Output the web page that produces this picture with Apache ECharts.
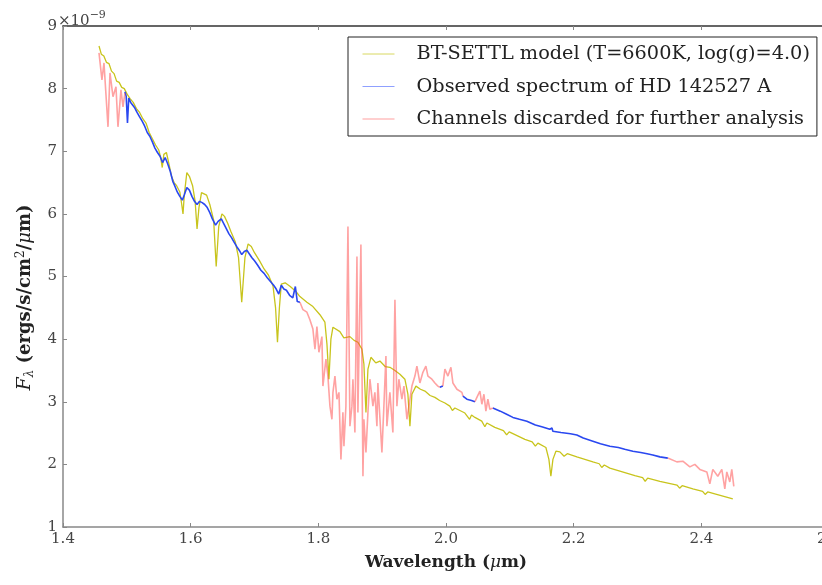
<!DOCTYPE html>
<html>
<head>
<meta charset="utf-8">
<script src="https://cdn.jsdelivr.net/npm/echarts@6/dist/echarts.min.js"></script>
<style>html,body{margin:0;padding:0;background:#fff;}#c{width:822px;height:585px;}</style>
</head>
<body>
<div id="c"></div>
<script>
// ---- Data (flux in units of 1e-9 ergs/s/cm^2/um) ----
const xTicks = [1.4, 1.6, 1.8, 2.0, 2.2, 2.4, 2.6];
const yTicks = [1, 2, 3, 4, 5, 6, 7, 8, 9];
const seriesNames = ['BT-SETTL model (T=6600K, log(g)=4.0)', 'Observed spectrum of HD 142527 A', 'Channels discarded for further analysis'];

// BT-SETTL model
const modelWl = [1.4564,1.4600,1.4640,1.4680,1.4720,1.4760,1.4800,1.4840,1.4880,1.4920,1.4960,1.5000,1.5050,1.5100,1.5150,1.5200,1.5250,1.5300,1.5350,1.5400,1.5450,1.5500,1.5530,1.5555,1.5580,1.5620,1.5660,1.5700,1.5740,1.5780,1.5830,1.5860,1.5880,1.5900,1.5940,1.5980,1.6030,1.6070,1.6100,1.6130,1.6170,1.6200,1.6250,1.6300,1.6360,1.6400,1.6440,1.6490,1.6530,1.6580,1.6630,1.6700,1.6750,1.6800,1.6850,1.6900,1.6950,1.7000,1.7080,1.7150,1.7220,1.7290,1.7330,1.7360,1.7390,1.7420,1.7480,1.7560,1.7649,1.7712,1.7821,1.7915,1.8025,1.8103,1.8135,1.8166,1.8197,1.8229,1.8338,1.8400,1.8495,1.8560,1.8620,1.8683,1.8714,1.8746,1.8777,1.8824,1.8900,1.8965,1.9050,1.9121,1.9200,1.9278,1.9356,1.9403,1.9435,1.9466,1.9529,1.9600,1.9670,1.9750,1.9826,1.9900,1.9983,2.0060,2.0100,2.0139,2.0296,2.0370,2.0400,2.0453,2.0560,2.0609,2.0640,2.0765,2.0900,2.0950,2.0990,2.1236,2.1350,2.1400,2.1440,2.1565,2.1612,2.1643,2.1675,2.1722,2.1784,2.1850,2.1900,2.2050,2.2301,2.2400,2.2440,2.2480,2.2567,2.2959,2.3080,2.3120,2.3160,2.3350,2.3620,2.3660,2.3700,2.3867,2.4020,2.4060,2.4100,2.4211,2.4493];
const modelFlux = [8.68,8.55,8.52,8.42,8.40,8.28,8.24,8.12,8.10,8.02,8.00,7.92,7.84,7.78,7.68,7.62,7.52,7.45,7.30,7.20,7.10,7.02,6.90,6.74,6.95,6.98,6.80,6.60,6.50,6.45,6.35,6.15,6.00,6.30,6.66,6.60,6.45,6.20,5.76,6.10,6.34,6.35,6.30,6.15,5.90,5.16,5.80,6.00,5.96,5.85,5.72,5.55,5.30,4.59,5.30,5.52,5.48,5.38,5.25,5.12,5.02,4.85,4.50,3.95,4.50,4.88,4.90,4.84,4.76,4.68,4.59,4.52,4.39,4.27,3.92,3.36,4.00,4.19,4.12,4.02,4.04,3.98,3.95,3.84,3.60,2.83,3.52,3.71,3.62,3.65,3.56,3.55,3.50,3.44,3.36,3.12,2.61,3.12,3.25,3.20,3.17,3.10,3.07,3.02,2.98,2.93,2.86,2.90,2.82,2.72,2.79,2.75,2.69,2.60,2.66,2.59,2.54,2.47,2.52,2.40,2.36,2.29,2.34,2.27,2.08,1.81,2.08,2.21,2.20,2.13,2.17,2.12,2.04,2.01,1.95,1.99,1.94,1.82,1.79,1.73,1.78,1.73,1.67,1.62,1.66,1.61,1.57,1.52,1.56,1.53,1.45];

// Observed spectrum (kept channels); null = discarded gap
const keptWl = [1.4970,1.4990,1.5010,1.5030,1.5060,1.5090,1.5120,1.5160,1.5200,1.5240,1.5280,1.5320,1.5360,1.5400,1.5440,1.5480,1.5520,1.5560,1.5600,1.5640,1.5680,1.5720,1.5750,1.5790,1.5830,1.5870,1.5900,1.5940,1.5980,1.6020,1.6060,1.6100,1.6140,1.6180,1.6220,1.6260,1.6300,1.6340,1.6390,1.6430,1.6480,1.6520,1.6560,1.6600,1.6640,1.6680,1.6720,1.6760,1.6800,1.6840,1.6880,1.6920,1.6960,1.7000,1.7050,1.7100,1.7150,1.7200,1.7250,1.7300,1.7340,1.7380,1.7420,1.7460,1.7500,1.7550,1.7600,1.7640,1.7670,1.7712,
  1.8, 1.9904,1.9950, 2.0, 2.0265,2.0327,2.0400,2.0453, 2.05,
  2.0734,2.0850,2.0950,2.1048,2.1150,2.1267,2.1400,2.1500,2.1627,2.1660,2.1674,2.1800,2.1950,2.2050,2.2150,2.2301,2.2420,2.2567,2.2700,2.2800,2.2927,2.3050,2.3150,2.3240,2.3350,2.3475];
const keptFlux = [7.95,7.88,7.45,7.85,7.78,7.74,7.70,7.62,7.55,7.48,7.40,7.30,7.24,7.15,7.05,6.98,6.92,6.82,6.90,6.80,6.68,6.52,6.45,6.35,6.28,6.22,6.30,6.42,6.38,6.28,6.20,6.15,6.20,6.18,6.15,6.10,6.02,5.92,5.82,5.88,5.92,5.84,5.76,5.68,5.62,5.55,5.48,5.42,5.35,5.40,5.42,5.36,5.30,5.25,5.18,5.10,5.05,4.98,4.92,4.86,4.80,4.72,4.86,4.80,4.78,4.70,4.66,4.84,4.60,4.59,
  null, 3.23,3.25, null, 3.09,3.04,3.02,3.00, null,
  2.90,2.85,2.80,2.75,2.72,2.69,2.63,2.60,2.56,2.58,2.53,2.51,2.49,2.47,2.42,2.37,2.33,2.29,2.27,2.24,2.21,2.19,2.17,2.15,2.12,2.10];

// Channels discarded for further analysis; null = gap
const discWl = [1.4564,1.4610,1.4642,1.4705,1.4736,1.4783,1.4830,1.4861,1.4908,1.4940,1.4970,
  1.5,
  1.7712,1.7759,1.7821,1.7868,1.7915,1.7947,1.7978,1.8009,1.8056,1.8072,1.8119,1.8150,1.8182,1.8213,1.8229,1.8260,1.8291,1.8323,1.8354,1.8385,1.8401,1.8432,1.8464,1.8495,1.8526,1.8542,1.8573,1.8605,1.8620,1.8667,1.8699,1.8714,1.8746,1.8777,1.8808,1.8855,1.8886,1.8918,1.8933,1.8996,1.9027,1.9059,1.9074,1.9121,1.9168,1.9200,1.9231,1.9262,1.9309,1.9341,1.9388,1.9419,1.9466,1.9513,1.9544,1.9591,1.9638,1.9685,1.9717,1.9779,1.9826,1.9873,1.9904,
  1.992,
  1.9950,1.9983,2.0030,2.0077,2.0108,2.0171,2.0249,2.0265,
  2.026,
  2.0453,2.0484,2.0531,2.0562,2.0594,2.0625,2.0656,2.0687,2.0734,
  2.1,
  2.3475,2.3491,2.3616,2.3710,2.3820,2.3898,2.3977,2.4086,2.4133,2.4180,2.4258,2.4321,2.4368,2.4399,2.4446,2.4477,2.4509];
const discFlux = [8.57,8.14,8.41,7.39,8.25,7.87,8.03,7.39,7.98,7.71,7.93,
  null,
  4.59,4.47,4.43,4.31,4.16,3.84,4.20,3.79,4.04,3.25,3.68,3.41,2.93,2.72,3.15,3.41,3.04,3.15,2.08,2.83,2.29,2.93,5.80,2.61,2.93,3.36,2.51,5.32,2.83,5.51,1.81,2.72,2.19,2.83,3.36,2.93,3.15,2.61,3.30,2.19,2.93,3.73,2.61,3.15,2.51,4.63,2.93,3.36,3.04,3.25,2.72,2.93,3.25,3.41,3.57,3.30,3.47,3.57,3.41,3.36,3.30,3.25,3.23,
  null,
  3.25,3.52,3.41,3.55,3.30,3.20,3.15,3.09,
  null,
  3.00,3.07,3.17,2.96,3.12,2.85,3.04,2.88,2.90,
  null,
  2.10,2.10,2.04,2.05,1.96,2.00,1.92,1.88,1.69,1.92,1.81,1.92,1.61,1.88,1.72,1.92,1.65];

// ---- Chart ----
const toPairs = (xs, ys) => xs.map((x, i) => [x, ys[i] == null ? '-' : ys[i]]);
const FONT = 'DejaVu Serif';
const chart = echarts.init(document.getElementById('c'), null, {renderer: 'canvas'});

const axisCommon = {
  type: 'value',
  axisLine: {show: true, lineStyle: {color: '#888', width: 1.5}},
  axisTick: {show: true, inside: true, length: 4, lineStyle: {color: '#888'}},
  splitLine: {show: false}
};

chart.setOption({
  animation: false,
  backgroundColor: '#fff',
  grid: {left: 63, width: 766, top: 26, height: 501, containLabel: false, outerBoundsMode: 'none'},
  xAxis: [
    Object.assign({}, axisCommon, {
      min: xTicks[0], max: xTicks[xTicks.length - 1], interval: 0.2,
      position: 'bottom',
      axisLabel: {color: '#444', fontFamily: FONT, fontSize: 15, margin: 5,
        formatter: v => v.toFixed(1)},
      name: '{b|Wavelength (}{i|μ}{b|m)}',
      nameLocation: 'middle', nameGap: 27,
      nameTextStyle: {rich: {
        b: {fontFamily: FONT, fontSize: 17, fontWeight: 'bold', color: '#222'},
        i: {fontFamily: FONT, fontSize: 17, fontStyle: 'italic', color: '#222'}
      }}
    }),
    Object.assign({}, axisCommon, {
      min: xTicks[0], max: xTicks[xTicks.length - 1], interval: 0.2,
      position: 'top',
      axisLine: {show: true, lineStyle: {color: '#333', width: 1.5}},
      axisLabel: {show: false}
    })
  ],
  yAxis: [
    Object.assign({}, axisCommon, {
      min: yTicks[0], max: yTicks[yTicks.length - 1], interval: 1,
      axisLabel: {color: '#444', fontFamily: FONT, fontSize: 15, margin: 6},
      name: '{e|}{f|F}{s|λ}{b| (ergs/s/cm}{p|2}{b|/}{i|μ}{b|m)}',
      nameLocation: 'middle', nameGap: 27, nameRotate: 90,
      nameTextStyle: {rich: {
        e: {width: 0},
        f: {fontFamily: FONT, fontSize: 19, fontStyle: 'italic', color: '#222'},
        s: {fontFamily: FONT, fontSize: 12, fontStyle: 'italic', color: '#222', verticalAlign: 'bottom', padding: [9,0,0,0]},
        b: {fontFamily: FONT, fontSize: 18, fontWeight: 'bold', color: '#222'},
        p: {fontFamily: FONT, fontSize: 12, color: '#222', verticalAlign: 'top', padding: [0,0,9,0]},
        i: {fontFamily: FONT, fontSize: 18, fontStyle: 'italic', color: '#222', padding: [0,0,0,0]}
      }, padding: [0, 42, 0, 0]}
    })
  ],
  graphic: [{
    type: 'text', left: 58, top: 10,
    style: {
      text: '{a|×10}{b|−9}',
      rich: {
        a: {fontFamily: FONT, fontSize: 15, fill: '#444', padding: [4,0,0,0]},
        b: {fontFamily: FONT, fontSize: 11, fill: '#444', verticalAlign: 'top', padding: [0,0,6,0]}
      }
    }
  }],
  legend: {
    show: true,
    orient: 'vertical', left: 348, top: 37,
    backgroundColor: '#fff', borderColor: '#222', borderWidth: 1,
    padding: [7, 7, 7, 14], itemGap: 12.5, itemWidth: 32, itemHeight: 10,
    itemStyle: {opacity: 0},
    textStyle: {fontFamily: FONT, fontSize: 19.3, lineHeight: 20, color: '#222', padding: [0,0,0,17]},
    data: [
      {name: seriesNames[0], lineStyle: {color: '#d8d860', width: 1}},
      {name: seriesNames[1], lineStyle: {color: '#8fa0ff', width: 1}},
      {name: seriesNames[2], lineStyle: {color: '#ff9f9f', width: 1}}
    ]
  },
  series: [
    {name: seriesNames[0], type: 'line', symbol: 'none',
      data: toPairs(modelWl, modelFlux), lineStyle: {color: '#c8c41c', width: 1.3}, itemStyle: {color: '#c8c41c'}, z: 2},
    {name: seriesNames[1], type: 'line', symbol: 'none', connectNulls: false,
      data: toPairs(keptWl, keptFlux), lineStyle: {color: '#2a48f0', width: 1.6}, itemStyle: {color: '#2a48f0'}, z: 3},
    {name: seriesNames[2], type: 'line', symbol: 'none', connectNulls: false,
      data: toPairs(discWl, discFlux), lineStyle: {color: 'rgba(255,70,70,0.5)', width: 1.6}, itemStyle: {color: '#ff8080'}, z: 4}
  ]
});
</script>
</body>
</html>
